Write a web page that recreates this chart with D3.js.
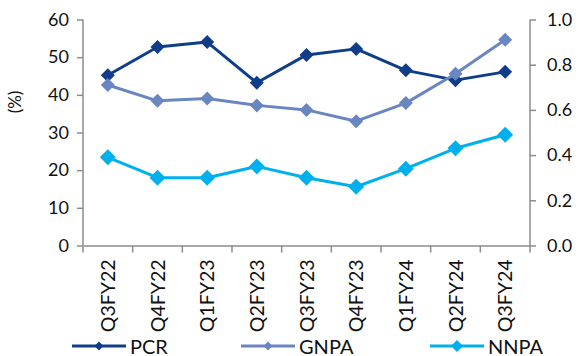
<!DOCTYPE html>
<html>
<head>
<meta charset="utf-8">
<script src="https://cdn.jsdelivr.net/npm/d3@7"></script>
<style>
  html, body { margin: 0; padding: 0; background: #fff; }
  svg { display: block; }
  text { font-family: "Lato", "Open Sans", sans-serif; fill: #111; }
</style>
</head>
<body>
<svg id="chart" width="579" height="356"></svg>
<script>
// Quarterly asset-quality metrics
const quarters = ["Q3FY22","Q4FY22","Q1FY23","Q2FY23","Q3FY23","Q4FY23","Q1FY24","Q2FY24","Q3FY24"];
const pcr  = [45.2, 52.7, 54.0, 43.2, 50.6, 52.2, 46.5, 43.9, 46.1];   // left axis, %
const gnpa = [0.71, 0.64, 0.65, 0.62, 0.60, 0.55, 0.63, 0.76, 0.91];   // right axis, %
const nnpa = [0.39, 0.30, 0.30, 0.35, 0.30, 0.26, 0.34, 0.43, 0.49];   // right axis, %
const leftTicks  = [0, 10, 20, 30, 40, 50, 60];
const rightTicks = [0, 0.2, 0.4, 0.6, 0.8, 1.0];

const svg = d3.select("#chart");
const m = { left: 83, right: 530, top: 19.5, bottom: 245.5 };

const x = d3.scaleBand().domain(quarters).range([m.left, m.right]);
const yL = d3.scaleLinear().domain([0, 60]).range([m.bottom, m.top]);
const yR = d3.scaleLinear().domain([0, 1]).range([m.bottom, m.top]);
const cx = d => x(d) + x.bandwidth() / 2;

const axisColor = "#8c8c8c";

// Left axis
const gL = svg.append("g").attr("transform", `translate(${m.left},0)`)
  .call(d3.axisLeft(yL).tickValues(leftTicks).tickSize(6).tickPadding(8).tickFormat(d3.format("d")));
// Right axis
const gR = svg.append("g").attr("transform", `translate(${m.right},0)`)
  .call(d3.axisRight(yR).tickValues(rightTicks).tickSize(6).tickPadding(11).tickFormat(d3.format(".1f")));
// Category axis with ticks on band boundaries
const gX = svg.append("g").attr("transform", `translate(0,${m.bottom})`)
  .call(d3.axisBottom(x).tickSize(0).tickFormat(""));
gX.selectAll(".bnd").data(quarters.concat(["__end"])).enter().append("line")
  .attr("x1", (d, i) => m.left + i * x.bandwidth())
  .attr("x2", (d, i) => m.left + i * x.bandwidth())
  .attr("y1", 0).attr("y2", 7)
  .attr("stroke", axisColor).attr("stroke-width", 1.5);
gX.selectAll(".lbl").data(quarters).enter().append("text")
  .attr("transform", d => `translate(${cx(d) + 7},${14}) rotate(-90)`)
  .attr("text-anchor", "end")
  .style("font-size", "19.5px")
  .text(d => d);

[gL, gR, gX].forEach(g => {
  g.selectAll(".domain").attr("stroke", axisColor).attr("stroke-width", 1.5);
  g.selectAll(".tick line").attr("stroke", axisColor).attr("stroke-width", 1.5);
  g.selectAll(".tick text").style("font-size", "18px").attr("fill", "#111");
});
gL.select(".domain").attr("d", `M0,${m.top}V${m.bottom}`);
gR.select(".domain").attr("d", `M0,${m.top}V${m.bottom}`);

// Axis title
svg.append("text")
  .attr("transform", `translate(21,102) rotate(-90)`)
  .attr("text-anchor", "middle")
  .style("font-size", "17px")
  .text("(%)");

const series = [
  { name: "PCR",  vals: pcr,  y: yL, color: "#0f3d8a", w: 3, r: 7 },
  { name: "GNPA", vals: gnpa, y: yR, color: "#6a86c1", w: 3, r: 7 },
  { name: "NNPA", vals: nnpa, y: yR, color: "#00b0ee", w: 3, r: 8 }
];

const diamond = (r) => `M0,${-r}L${r},0L0,${r}L${-r},0Z`;

series.forEach(s => {
  const line = d3.line().x((d, i) => cx(quarters[i])).y(d => s.y(d));
  svg.append("path").datum(s.vals)
    .attr("d", line).attr("fill", "none")
    .attr("stroke", s.color).attr("stroke-width", s.w).attr("stroke-linejoin", "round");
  svg.selectAll(null).data(s.vals).enter().append("path")
    .attr("d", diamond(s.r))
    .attr("transform", (d, i) => `translate(${cx(quarters[i])},${s.y(d)})`)
    .attr("fill", s.color);
});

// Legend
const legendX = [72, 241, 430];
series.forEach((s, i) => {
  const len = i === 1 ? 54 : 54;
  const g = svg.append("g").attr("transform", `translate(${legendX[i]},346)`);
  g.append("line").attr("x1", 0).attr("x2", len).attr("y1", 0).attr("y2", 0)
    .attr("stroke", s.color).attr("stroke-width", 3);
  g.append("path").attr("d", diamond(i === 2 ? 6 : 4.5))
    .attr("transform", `translate(${len / 2},0)`).attr("fill", s.color);
  g.append("text").attr("x", len + 4).attr("y", 7.5)
    .style("font-size", "20px").text(s.name);
});
</script>
</body>
</html>
